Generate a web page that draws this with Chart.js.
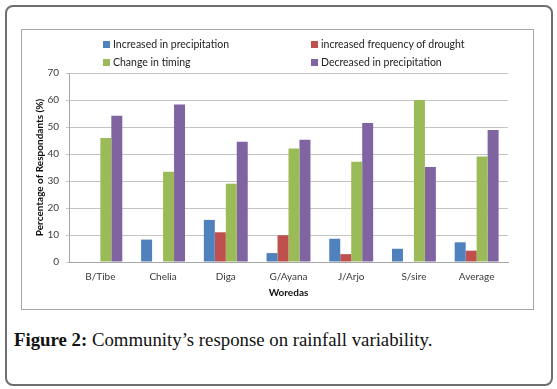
<!DOCTYPE html>
<html>
<head>
<meta charset="utf-8">
<script src="https://cdn.jsdelivr.net/npm/chart.js@4/dist/chart.umd.min.js"></script>
<style>
  html, body { margin:0; padding:0; background:#fff; }
  body { width:557px; height:389px; position:relative; overflow:hidden; }
  #frame { position:absolute; left:5px; top:5px; width:544px; height:377px; border:2px solid #6e6e6e; border-radius:8px; }
  #box { position:absolute; left:21px; top:29px; width:511px; height:279px; border:1px solid #a6a6a6; }
  #wrap { position:absolute; left:0; top:0; width:511px; height:279px; }
  .leg { position:absolute; font-family:Lato, "Liberation Sans", sans-serif; font-size:10.5px; color:#222; white-space:nowrap; line-height:12px; }
  .leg i { display:inline-block; width:7px; height:7px; margin-right:3px; vertical-align:0px; }
  #cap { position:absolute; left:14px; top:329px; font-family:"Liberation Serif", "DejaVu Serif", serif; font-size:18.8px; color:#111; white-space:nowrap; }
</style>
</head>
<body>
<div id="frame"></div>
<div id="box"><div id="wrap"><canvas id="c" width="511" height="279"></canvas></div></div>
<div id="legend"></div>
<div id="cap"><b>Figure 2:</b> Community’s response on rainfall variability.</div>
<script>
const categories = ["B/Tibe", "Chelia", "Diga", "G/Ayana", "J/Arjo", "S/sire", "Average"];
const seriesNames = ["Increased in precipitation", "increased frequency of drought", "Change in timing", "Decreased in precipitation"];
const increasedPrecip = [0, 8.3, 15.6, 3.3, 8.6, 4.9, 7.3];
const droughtFreq = [0, 0, 11.0, 9.9, 2.9, 0, 4.2];
const changeTiming = [45.9, 33.4, 29.0, 42.0, 37.1, 60.0, 39.1];
const decreasedPrecip = [54.2, 58.3, 44.5, 45.3, 51.5, 35.2, 48.9];
const yTicks = [0, 10, 20, 30, 40, 50, 60, 70];
const colors = ["#4F81BD", "#C0504D", "#9BBB59", "#8064A2"];

// HTML legend (two columns)
const legPos = [[103, 38], [311, 38], [103, 56], [311, 56]];
const legend = document.getElementById('legend');
seriesNames.forEach((n, i) => {
  const d = document.createElement('div');
  d.className = 'leg';
  d.style.left = legPos[i][0] + 'px';
  d.style.top = legPos[i][1] + 'px';
  d.innerHTML = '<i style="background:' + colors[i] + '"></i>' + n;
  legend.appendChild(d);
});

const allSeries = [increasedPrecip, droughtFreq, changeTiming, decreasedPrecip];
const tickFont = { family: 'Lato, "Liberation Sans", sans-serif', size: 10 };
new Chart(document.getElementById('c'), {
  type: 'bar',
  data: {
    labels: categories,
    datasets: allSeries.map((d, i) => ({
      label: seriesNames[i],
      data: d,
      backgroundColor: colors[i],
      borderWidth: 0,
      categoryPercentage: 0.7,
      barPercentage: 1.0
    }))
  },
  options: {
    responsive: false,
    animation: false,
    devicePixelRatio: 1,
    layout: { padding: { left: 0, right: 25, top: 43, bottom: 0 } },
    plugins: { legend: { display: false }, tooltip: { enabled: false } },
    scales: {
      x: {
        grid: { display: false, drawTicks: false },
        border: { color: '#a6a6a6' },
        ticks: { font: tickFont, color: '#3a3a3a', padding: 9 },
        title: { display: true, text: 'Woredas', font: { family: tickFont.family, size: 10, weight: 'bold' }, color: '#111', padding: { top: 0, bottom: 10 } },
        afterFit: s => { s.height = 47; }
      },
      y: {
        min: 0, max: 70,
        afterBuildTicks: s => { s.ticks = yTicks.map(v => ({ value: v })); },
        grid: { color: '#c4c4c4', tickLength: 3 },
        border: { color: '#a6a6a6' },
        ticks: { font: tickFont, color: '#3a3a3a', padding: 7 },
        title: { display: true, text: 'Percentage of Respondants (%)', font: { family: tickFont.family, size: 10, weight: 'bold' }, color: '#111', padding: { top: 12, bottom: 0 } },
        afterFit: s => { s.width = 47; }
      }
    }
  }
});
</script>
</body>
</html>
